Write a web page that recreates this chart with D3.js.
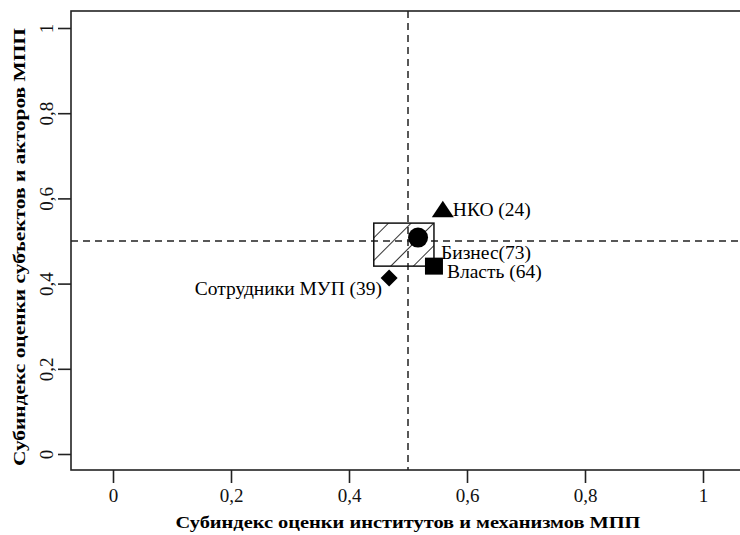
<!DOCTYPE html>
<html>
<head>
<meta charset="utf-8">
<script src="https://cdn.jsdelivr.net/npm/d3@7"></script>
<style>
  body { margin: 0; background: #fff; }
  svg { display: block; }
  svg text { font-family: "Liberation Serif", "Times New Roman", "DejaVu Serif", serif; }
</style>
</head>
<body>
<svg id="chart" width="740" height="535"></svg>
<script>
// data
const groups = ["НКО (24)", "Бизнес(73)", "Власть (64)", "Сотрудники МУП (39)"];
const xValues = [0.559, 0.517, 0.544, 0.468];
const yValues = [0.570, 0.508, 0.441, 0.413];
const shapes = ["triangle", "circle", "square", "diamond"];
const boxX = [0.442, 0.544];
const boxY = [0.441, 0.542];
const refX = 0.5;
const refY = 0.5;
const xTicks = [0, 0.2, 0.4, 0.6, 0.8, 1];
const yTicks = [0, 0.2, 0.4, 0.6, 0.8, 1];
const xTitle = "Субиндекс оценки институтов и механизмов МПП";
const yTitle = "Субиндекс оценки субъектов и акторов МПП";

const svg = d3.select("#chart");
const x = d3.scaleLinear().domain([0, 1]).range([113, 703]);
const y = d3.scaleLinear().domain([0, 1]).range([454, 28]);
const fmt = d => d === 0 || d === 1 ? String(d) : String(d).replace(".", ",");

// plot frame (runs past right edge like the original)
const frame = { left: 71, top: 11, right: 760, bottom: 470 };

const defs = svg.append("defs");
const pat = defs.append("pattern")
  .attr("id", "hatch")
  .attr("patternUnits", "userSpaceOnUse")
  .attr("width", 16).attr("height", 16)
  .attr("patternTransform", "rotate(45)");
pat.append("line")
  .attr("x1", 0).attr("y1", 0).attr("x2", 0).attr("y2", 16)
  .attr("stroke", "#000").attr("stroke-width", 1.6);

svg.append("rect")
  .attr("x", frame.left).attr("y", frame.top)
  .attr("width", frame.right - frame.left)
  .attr("height", frame.bottom - frame.top)
  .attr("fill", "none").attr("stroke", "#222").attr("stroke-width", 1.6);

// axes
const xAxis = d3.axisBottom(x).tickValues(xTicks).tickFormat(fmt).tickSize(13).tickPadding(6);
const gx = svg.append("g").attr("transform", `translate(0,${frame.bottom})`).call(xAxis);
gx.attr("font-family", null);
gx.select(".domain").remove();
gx.selectAll(".tick line").attr("stroke", "#222").attr("stroke-width", 1.6);
gx.selectAll(".tick text").attr("font-size", 19).attr("fill", "#111");

const yAxis = d3.axisLeft(y).tickValues(yTicks).tickFormat(fmt).tickSize(13).tickPadding(0);
const gy = svg.append("g").attr("transform", `translate(${frame.left},0)`).call(yAxis);
gy.attr("font-family", null);
gy.select(".domain").remove();
gy.selectAll(".tick line").attr("stroke", "#222").attr("stroke-width", 1.6);
gy.selectAll(".tick text")
  .attr("font-size", 19).attr("fill", "#111")
  .attr("x", null).attr("dy", null)
  .attr("text-anchor", "middle")
  .attr("transform", "translate(-18,0) rotate(-90)");

// reference lines
svg.append("line")
  .attr("x1", x(refX)).attr("x2", x(refX))
  .attr("y1", frame.top).attr("y2", frame.bottom)
  .attr("stroke", "#222").attr("stroke-width", 1.5).attr("stroke-dasharray", "7,5");
svg.append("line")
  .attr("x1", frame.left).attr("x2", frame.right)
  .attr("y1", y(refY)).attr("y2", y(refY))
  .attr("stroke", "#222").attr("stroke-width", 1.5).attr("stroke-dasharray", "7,5");

// hatched box
svg.append("rect")
  .attr("x", x(boxX[0])).attr("y", y(boxY[1]))
  .attr("width", x(boxX[1]) - x(boxX[0]))
  .attr("height", y(boxY[0]) - y(boxY[1]))
  .attr("fill", "url(#hatch)").attr("stroke", "#111").attr("stroke-width", 1.5);

// markers
const points = groups.map((g, i) => ({ label: g, x: xValues[i], y: yValues[i], shape: shapes[i] }));
const shapePath = {
  triangle: "M0,-10.5L11,6L-11,6Z",
  square: "M-9,-8.5H9V8.5H-9Z",
  diamond: "M0,-8.5L8.5,0L0,8.5L-8.5,0Z"
};
const marks = svg.append("g").selectAll("g").data(points).join("g")
  .attr("transform", d => `translate(${x(d.x)},${y(d.y)})`);
marks.filter(d => d.shape === "circle").append("circle").attr("r", 10).attr("fill", "#000");
marks.filter(d => d.shape !== "circle").append("path")
  .attr("d", d => shapePath[d.shape]).attr("fill", "#000");

// point labels
const labelPos = {
  "triangle": { dx: 10, dy: 5, anchor: "start" },
  "circle": { dx: 23, dy: 21, anchor: "start" },
  "square": { dx: 13, dy: 12, anchor: "start" },
  "diamond": { dx: -7, dy: 17, anchor: "end" }
};
svg.append("g").selectAll("text").data(points).join("text")
  .attr("x", d => x(d.x) + labelPos[d.shape].dx)
  .attr("y", d => y(d.y) + labelPos[d.shape].dy)
  .attr("text-anchor", d => labelPos[d.shape].anchor)
  .attr("font-size", 19.5).attr("fill", "#000")
  .text(d => d.label);

// axis titles
svg.append("text")
  .attr("x", 408).attr("y", 528)
  .attr("text-anchor", "middle")
  .attr("font-size", 17).attr("font-weight", "bold")
  .attr("textLength", 465).attr("lengthAdjust", "spacingAndGlyphs")
  .text(xTitle);
svg.append("text")
  .attr("transform", "translate(25,247) rotate(-90)")
  .attr("text-anchor", "middle")
  .attr("font-size", 17).attr("font-weight", "bold")
  .attr("textLength", 438).attr("lengthAdjust", "spacingAndGlyphs")
  .text(yTitle);
</script>
</body>
</html>
